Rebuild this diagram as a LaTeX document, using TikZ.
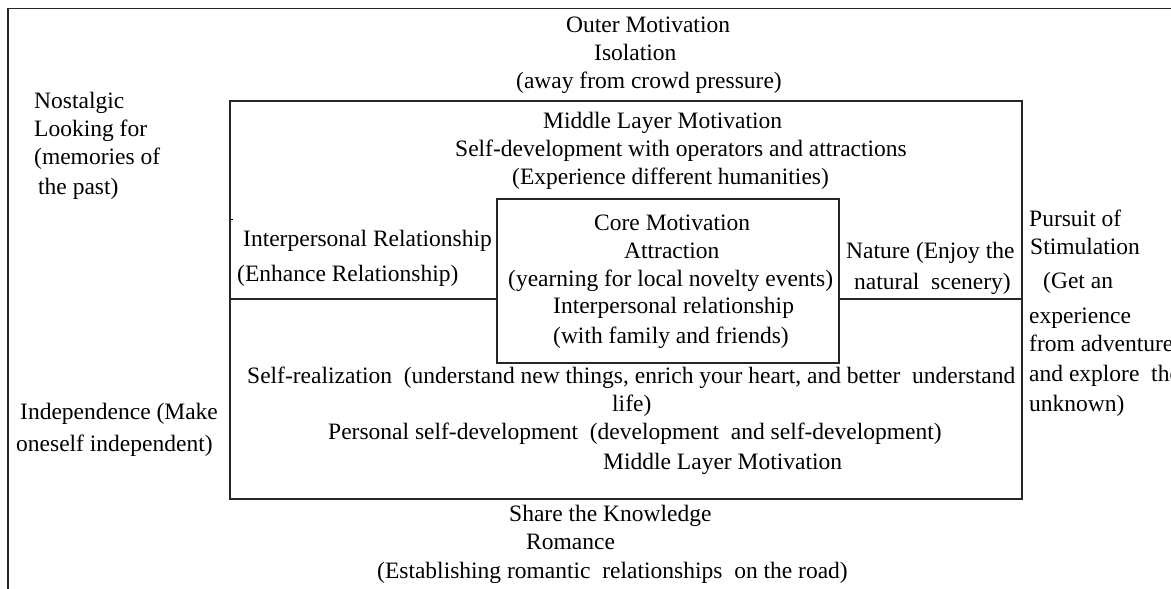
\documentclass[tikz,border=0pt]{standalone}
\usepackage{fontspec}
\setmainfont{Liberation Serif}
\begin{document}
\begin{tikzpicture}[x=1pt,y=-1pt,
  lbl/.style={anchor=base west,inner sep=0pt,font=\fontsize{23.5}{28}\selectfont,text=black},
  frame/.style={draw=black!85,line width=1.6pt},
  boxline/.style={draw=black!85,line width=1.5pt}]
\useasboundingbox (0,0) rectangle (1171,589);
% outer frame (partly cut off)
\coordinate (ofbl) at (8,600);
\coordinate (oftl) at (8,8.5);
\coordinate (oftr) at (1180,8.5);
\draw[frame] (ofbl) -- (oftl) -- (oftr);
% middle box
\coordinate (mtl) at (230,101);
\coordinate (mbr) at (1022,499);
\draw[boxline] (mtl) rectangle (mbr);
% core box
\coordinate (ctl) at (497,199);
\coordinate (cbr) at (839,363);
\draw[boxline] (ctl) rectangle (cbr);
% dividers
\coordinate (dl1) at (230,299);
\coordinate (dl2) at (497,299);
\coordinate (dr1) at (839,299);
\coordinate (dr2) at (1022,299);
\draw[boxline] (dl1) -- (dl2);
\draw[boxline] (dr1) -- (dr2);
\coordinate (tk1) at (230,219);
\coordinate (tk2) at (233,219);
\draw[line width=1pt] (tk1) -- (tk2);
% outer layer texts
\node[lbl] (o1) at (566,32) {Outer Motivation};
\node[lbl] (o2) at (594,60) {Isolation};
\node[lbl] (o3) at (516,88) {(away from crowd pressure)};
% middle top
\node[lbl] (m1) at (543,128) {Middle Layer Motivation};
\node[lbl] (m2) at (455,156) {Self-development with operators and attractions};
\node[lbl] (m3) at (512,184) {(Experience different humanities)};
% core
\node[lbl] (c1) at (594,230) {Core Motivation};
\node[lbl] (c2) at (624,258) {Attraction};
\node[lbl] (c3) at (508,286) {(yearning for local novelty events)};
\node[lbl] (c4) at (553,313) {Interpersonal relationship};
\node[lbl] (c5) at (553,343) {(with family and friends)};
% left/right inner
\node[lbl] (ir1) at (243,246) {Interpersonal Relationship};
\node[lbl] (ir2) at (237,281) {(Enhance Relationship)};
\node[lbl] (na1) at (846,258) {Nature (Enjoy the};
\node[lbl] (na2) at (854,289) {natural\ \ scenery)};
% middle bottom
\node[lbl] (s1) at (247,383) {Self-realization\ \ (understand new things, enrich your heart, and better\ \ understand};
\node[lbl] (s2) at (612,411) {life)};
\node[lbl] (pd) at (328,439) {Personal self-development\ \ (development\ \ and self-development)};
\node[lbl] (m4) at (603,469) {Middle Layer Motivation};
% bottom outer
\node[lbl] (b1) at (509,521) {Share the Knowledge};
\node[lbl] (b2) at (526,549) {Romance};
\node[lbl] (b3) at (377,578) {(Establishing romantic\ \ relationships\ \ on the road)};
% left outer
\node[lbl] (n1) at (34,108) {Nostalgic};
\node[lbl] (n2) at (34,136) {Looking for};
\node[lbl] (n3) at (34,164) {(memories of};
\node[lbl] (n4) at (38,194) {the past)};
\node[lbl] (i1) at (20,419) {Independence (Make};
\node[lbl] (i2) at (16,451) {oneself independent)};
% right outer
\node[lbl] (p1) at (1029,226) {Pursuit of};
\node[lbl] (p2) at (1030,254) {Stimulation};
\node[lbl] (p3) at (1043,288) {(Get an};
\node[lbl] (p4) at (1029,323) {experience};
\node[lbl] (p5) at (1029,351) {from adventure};
\node[lbl] (p6) at (1029,381) {and explore\ \ the};
\node[lbl] (p7) at (1029,411) {unknown)};
\end{tikzpicture}
\end{document}
